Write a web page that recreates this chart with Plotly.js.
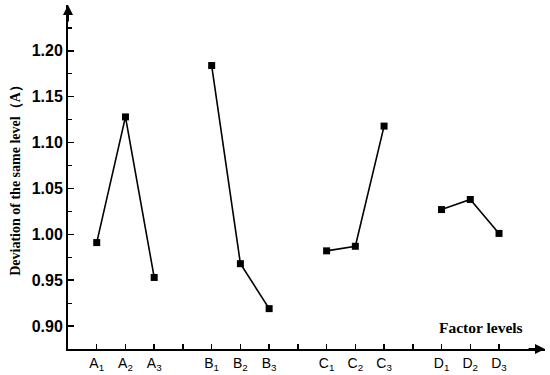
<!DOCTYPE html>
<html>
<head>
<meta charset="utf-8">
<script src="https://cdn.plot.ly/plotly-3.0.1.min.js"></script>
<style>
  body { margin: 0; background: #fff; }
  #chart { width: 550px; height: 375px; }
</style>
</head>
<body>
<div id="chart"></div>
<script>
// 各因素水平的偏差值
const factorNames = ['A', 'B', 'C', 'D'];
const levelsA = [0.991, 1.128, 0.953];
const levelsB = [1.184, 0.968, 0.919];
const levelsC = [0.982, 0.987, 1.118];
const levelsD = [1.027, 1.038, 1.001];
const tickLabels = ['A<sub>1</sub>', 'A<sub>2</sub>', 'A<sub>3</sub>', '',
    'B<sub>1</sub>', 'B<sub>2</sub>', 'B<sub>3</sub>', '',
    'C<sub>1</sub>', 'C<sub>2</sub>', 'C<sub>3</sub>', '',
    'D<sub>1</sub>', 'D<sub>2</sub>', 'D<sub>3</sub>'];
const yTicks = [0.90, 0.95, 1.00, 1.05, 1.10, 1.15, 1.20];

const groups = [levelsA, levelsB, levelsC, levelsD];

// 每組三個點, 組間空一格
const traces = groups.map((vals, g) => ({
    x: vals.map((v, i) => g * 4 + i + 1),
    y: vals,
    type: 'scatter',
    mode: 'lines+markers',
    name: factorNames[g],
    line: { color: '#000', width: 1.6 },
    marker: { symbol: 'square', size: 7, color: '#000' },
    hoverinfo: 'skip'
}));

const xMax = 16.6;
const yMin = 0.875;
const yMax = 1.25;

const layout = {
    width: 550,
    height: 375,
    margin: { l: 68, r: 5, t: 5, b: 26 },
    paper_bgcolor: '#fff',
    plot_bgcolor: '#fff',
    showlegend: false,
    xaxis: {
        range: [0, xMax],
        showgrid: false,
        zeroline: false,
        showline: true,
        linecolor: '#000',
        linewidth: 2,
        ticks: 'inside',
        ticklen: 5,
        tickwidth: 1.5,
        tickcolor: '#000',
        tickvals: tickLabels.map((t, i) => i + 1),
        ticktext: tickLabels,
        tickfont: { family: 'Liberation Sans, Arial, sans-serif', size: 14, color: '#000' }
    },
    yaxis: {
        range: [yMin, yMax],
        showgrid: false,
        zeroline: false,
        showline: true,
        linecolor: '#000',
        linewidth: 2,
        ticks: 'inside',
        ticklen: 6,
        tickwidth: 1.5,
        tickcolor: '#000',
        tickvals: yTicks,
        ticktext: yTicks.map(v => v.toFixed(2)),
        tickfont: { family: 'Liberation Sans, Arial, sans-serif', size: 16, color: '#000', weight: 'bold' },
        minor: { tick0: 0.875, dtick: 0.025, ticks: 'inside', ticklen: 4, tickwidth: 1.2, tickcolor: '#000' },
        title: {
            text: '<b>Deviation of the same level（A）</b>',
            font: { family: 'Liberation Serif, Times New Roman, serif', size: 14, color: '#000' },
            standoff: 8
        }
    },
    annotations: [
        {
            x: 0, y: yMax, xref: 'x', yref: 'y',
            ax: 0, ay: 18, text: '',
            showarrow: true, arrowhead: 2, arrowsize: 1, arrowwidth: 2, arrowcolor: '#000'
        },
        {
            x: xMax, y: yMin, xref: 'x', yref: 'y',
            ax: -18, ay: 0, text: '',
            showarrow: true, arrowhead: 2, arrowsize: 1, arrowwidth: 2, arrowcolor: '#000'
        },
        {
            x: 0, y: 0, xref: 'paper', yref: 'paper',
            xanchor: 'center', yanchor: 'middle',
            text: '<b>Factor levels</b>',
            showarrow: false,
            font: { family: 'Liberation Serif, Times New Roman, serif', size: 15.5, color: '#000' }
        }
    ]
};

// 把 Factor levels 換成圖紙座標
const plotW = 550 - 68 - 5;
const plotH = 375 - 5 - 26;
layout.annotations[2].x = (481 - 68) / plotW;
layout.annotations[2].y = (375 - 26 - 327) / plotH;

Plotly.newPlot('chart', traces, layout, { displayModeBar: false, staticPlot: true });
</script>
</body>
</html>
